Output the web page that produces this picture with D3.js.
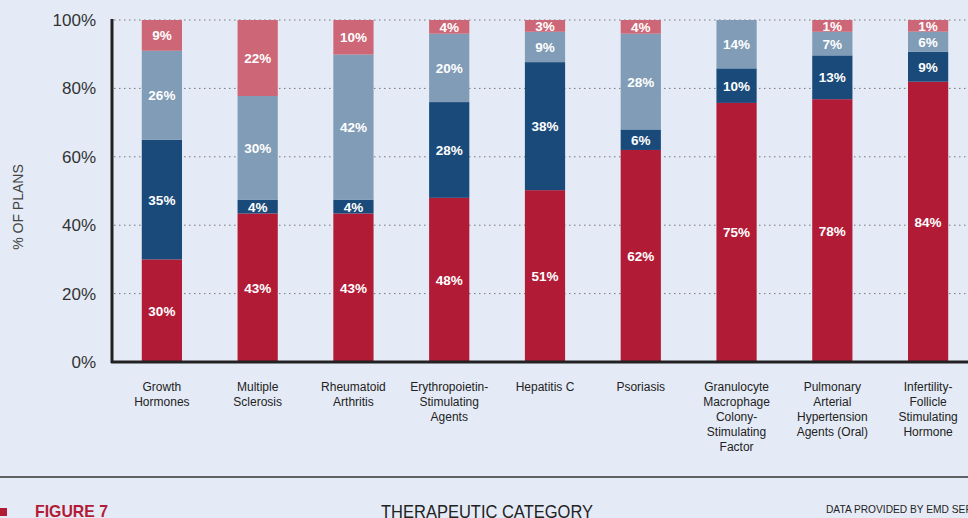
<!DOCTYPE html>
<meta charset="utf-8">
<head>
<style>
body { margin: 0; background: #e5ebf6; }
svg { display: block; font-family: "Liberation Sans", Arial, sans-serif; }
.grid line { stroke: #777; stroke-dasharray: 1.5 3.5; }
.seg-label { fill: #fff; font-weight: bold; font-size: 13.5px; text-anchor: middle; }
.xlab { fill: #222; font-size: 12px; text-anchor: middle; }
</style>
</head>
<body>
<div id="chart"></div>
<script src="https://d3js.org/d3.v7.min.js"></script>
<script>

// categories and series (percent of plans)
var categories = ["Growth Hormones", "Multiple Sclerosis", "Rheumatoid Arthritis",
  "Erythropoietin-Stimulating Agents", "Hepatitis C", "Psoriasis",
  "Granulocyte Macrophage Colony-Stimulating Factor",
  "Pulmonary Arterial Hypertension Agents (Oral)",
  "Infertility-Follicle Stimulating Hormone"];
// line breaks for the x labels
var catLines = [
  ["Growth", "Hormones"],
  ["Multiple", "Sclerosis"],
  ["Rheumatoid", "Arthritis"],
  ["Erythropoietin-", "Stimulating", "Agents"],
  ["Hepatitis C"],
  ["Psoriasis"],
  ["Granulocyte", "Macrophage", "Colony-", "Stimulating", "Factor"],
  ["Pulmonary", "Arterial", "Hypertension", "Agents (Oral)"],
  ["Infertility-", "Follicle", "Stimulating", "Hormone"]
];
var seriesA = [30, 43, 43, 48, 51, 62, 75, 78, 84];   // bottom, dark red
var seriesB = [35, 4, 4, 28, 38, 6, 10, 13, 9];       // dark blue
var seriesC = [26, 30, 42, 20, 9, 28, 14, 7, 6];      // light blue
var seriesD = [9, 22, 10, 4, 3, 4, 0, 1, 1];          // top, pink
var yTicks = [0, 20, 40, 60, 80, 100];

var keys = ["a", "b", "c", "d"];
var colors = {a: "#b21b36", b: "#1a4a7a", c: "#809cb6", d: "#cd6676"};
var minShow = 3.5; // tiny segments are drawn a bit taller so the label fits

var rows = categories.map(function(c, i) {
  return {cat: c, a: seriesA[i], b: seriesB[i], c: seriesC[i], d: seriesD[i]};
});

var W = 968, H = 518;
var svg = d3.select("#chart").append("svg").attr("width", W).attr("height", H);

var x = d3.scaleBand().domain(categories).range([114, 976]).paddingInner(0.58).paddingOuter(0.29);
var y = d3.scaleLinear().domain([0, 100]).range([362, 20]);

// grid
svg.append("g").attr("class", "grid")
  .selectAll("line").data(yTicks.filter(function(d) { return d > 0; }))
  .enter().append("line")
  .attr("x1", 114).attr("x2", W)
  .attr("y1", function(d) { return y(d); }).attr("y2", function(d) { return y(d); });

// y tick labels
svg.append("g").selectAll("text").data(yTicks).enter().append("text")
  .attr("x", 96).attr("y", function(d) { return y(d) + 6; })
  .attr("text-anchor", "end")
  .style("font-size", "17px").style("fill", "#333")
  .text(function(d) { return d + "%"; });

svg.append("text")
  .attr("transform", "translate(23," + 207 + ") rotate(-90)")
  .attr("text-anchor", "middle")
  .style("font-size", "14px").style("fill", "#444")
  .text("% OF PLANS");

// stacked bars, normalised to 100
var stack = d3.stack().keys(keys)
  .value(function(d, k) { return d[k] > 0 ? Math.max(d[k], minShow) : 0; })
  .offset(d3.stackOffsetExpand);
var layers = stack(rows);

var layer = svg.append("g").selectAll("g").data(layers).enter().append("g")
  .attr("fill", function(d) { return colors[d.key]; });

layer.selectAll("rect").data(function(d) { return d; }).enter().append("rect")
  .attr("x", function(d) { return x(d.data.cat); })
  .attr("width", x.bandwidth())
  .attr("y", function(d) { return y(d[1] * 100); })
  .attr("height", function(d) { return y(d[0] * 100) - y(d[1] * 100); });

layer.each(function(L) {
  d3.select(this).selectAll("text").data(L.filter(function(d) { return d.data[L.key] > 0; }))
    .enter().append("text")
    .attr("class", "seg-label")
    .attr("x", function(d) { return x(d.data.cat) + x.bandwidth() / 2; })
    .attr("y", function(d) { return y((d[0] + d[1]) / 2 * 100) + 5; })
    .text(function(d) { return d.data[L.key] + "%"; });
});

// axes lines
svg.append("line").attr("x1", 112).attr("x2", 112).attr("y1", 19).attr("y2", 363)
  .attr("stroke", "#222").attr("stroke-width", 3);
svg.append("line").attr("x1", 111).attr("x2", W).attr("y1", 362).attr("y2", 362)
  .attr("stroke", "#222").attr("stroke-width", 3);

// x labels
var xl = svg.append("g").selectAll("text").data(categories).enter().append("text")
  .attr("class", "xlab")
  .attr("x", function(d) { return x(d) + x.bandwidth() / 2; })
  .attr("y", 391);
xl.each(function(d, i) {
  var t = d3.select(this);
  catLines[i].forEach(function(s, j) {
    t.append("tspan").attr("x", x(d) + x.bandwidth() / 2).attr("dy", j ? 15 : 0).text(s);
  });
});

// footer
svg.append("line").attr("x1", 0).attr("x2", W).attr("y1", 477).attr("y2", 477)
  .attr("stroke", "#333").attr("stroke-width", 1.5);
svg.append("rect").attr("x", 0).attr("y", 508).attr("width", 7).attr("height", 8).attr("fill", "#b21b36");
svg.append("text").attr("x", 35).attr("y", 517)
  .attr("textLength", 73).attr("lengthAdjust", "spacingAndGlyphs")
  .style("font-weight", "bold").style("font-size", "17px").style("fill", "#b21b36")
  .text("FIGURE 7");
svg.append("text").attr("x", 381).attr("y", 518)
  .attr("textLength", 212).attr("lengthAdjust", "spacingAndGlyphs")
  .style("font-size", "18px").style("fill", "#222")
  .text("THERAPEUTIC CATEGORY");
svg.append("text").attr("x", 826).attr("y", 513)
  .attr("textLength", 170).attr("lengthAdjust", "spacingAndGlyphs")
  .style("font-size", "11px").style("fill", "#222")
  .text("DATA PROVIDED BY EMD SERONO");

</script>
</body>
